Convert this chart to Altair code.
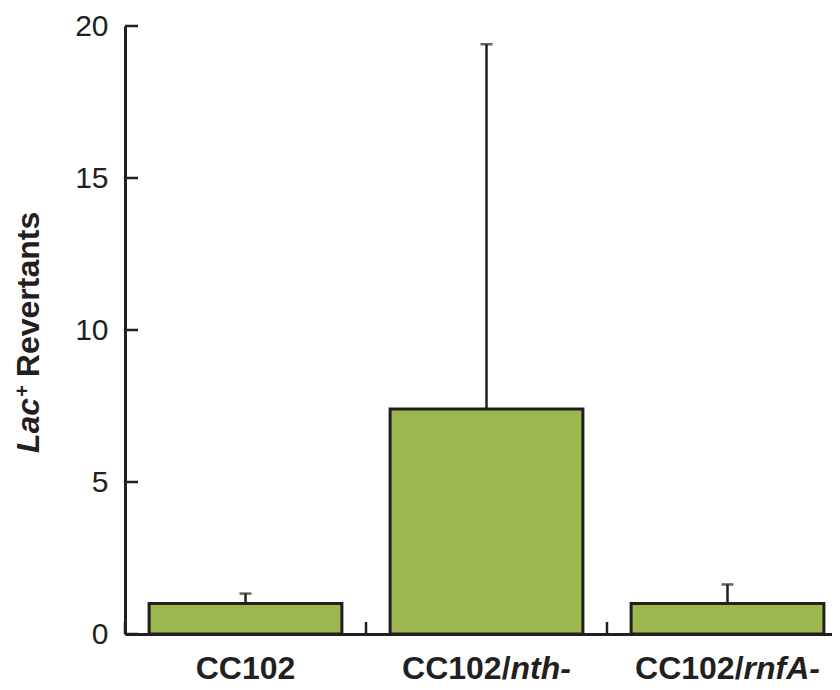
import altair as alt
import pandas as pd

# ---- data ----
strains = ["CC102", "CC102/nth-", "CC102/rnfA-"]
label_plain = ["CC102", "CC102/", "CC102/"]
label_italic = ["", "nth-", "rnfA-"]
revertants = [1.0, 7.4, 1.0]
upper = [1.33, 19.4, 1.63]
y_ticks = [0, 5, 10, 15, 20]
title_italic = ["Lac"]
title_sup = ["+"]
title_plain = ["Revertants"]

# ---- style / layout ----
W, H = 707, 608       # plot area; SVG = 117 + 707 = 824 wide, 18 + 608 + 48 = 674 high
STEP = 241            # px per category slot in the reference
BAR_FRAC = 0.8
FONT = "Liberation Sans"
INK = "#231f20"
GREEN = "#9bb74e"
LABEL_FS = 32
TITLE_FS = 32

# Helvetica/Arial bold advance widths (em)
BOLD_W = {"C": .722, "1": .556, "0": .556, "2": .556, "/": .278, "n": .611,
          "t": .333, "h": .611, "-": .333, "r": .389, "f": .333, "A": .722,
          "L": .611, "a": .556, "c": .556, "+": .584, " ": .278}


def text_w(s, fs):
    return sum(BOLD_W.get(ch, .556) for ch in s) * fs


df = pd.DataFrame({"strain": strains, "value": revertants, "upper": upper,
                   "plain": label_plain, "ital": label_italic})
df["idx"] = range(len(strains))
ticks_df = pd.DataFrame({"v": y_ticks})

# slot scale: one unit per category, visible range = W / STEP units
x_scale = alt.Scale(domain=[0, W / STEP], nice=False, zero=True, padding=0)
y_scale = alt.Scale(domain=[0, 20], nice=False, zero=True, padding=0)

x_axis = alt.Axis(title=None, labels=False, ticks=False, tickSize=0, grid=False,
                  domainColor=INK, domainWidth=3)
y_axis = alt.Axis(title=None, values=y_ticks, ticks=False, tickSize=0, grid=False,
                  labelPadding=17, labelFontSize=30, labelFont=FONT, labelColor=INK,
                  domainColor=INK, domainWidth=3)

half_gap = (1 - BAR_FRAC) / 2
base = alt.Chart(df).transform_calculate(
    x0=f"datum.idx + {half_gap}",
    x1=f"datum.idx + {1 - half_gap}",
    xc="datum.idx + 0.5",
)

bars = base.mark_bar(fill=GREEN, stroke=INK, strokeWidth=3).encode(
    x=alt.X("x0:Q", scale=x_scale, axis=x_axis),
    x2="x1:Q",
    y=alt.Y("value:Q", scale=y_scale, axis=y_axis),
    y2=alt.datum(0),
)

err = base.mark_rule(color=INK, strokeWidth=2.5).encode(
    x=alt.X("xc:Q", scale=x_scale),
    y=alt.Y("value:Q", scale=y_scale),
    y2="upper:Q",
)

caps = base.mark_tick(color=INK, thickness=2.5, size=12, orient="horizontal").encode(
    x=alt.X("xc:Q", scale=x_scale),
    y=alt.Y("upper:Q", scale=y_scale),
)

xticks = base.mark_rule(color=INK, strokeWidth=2.5).encode(
    x=alt.X("idx:Q", scale=x_scale),
    y=alt.value(H - 12),
    y2=alt.value(H),
)

yticks = alt.Chart(ticks_df).mark_rule(color=INK, strokeWidth=2.5).encode(
    y=alt.Y("v:Q", scale=y_scale),
    x=alt.value(0),
    x2=alt.value(13),
)

layers = [bars, err, caps, xticks, yticks]

LABEL_Y = H + 45
# x tick labels with mixed bold / bold-italic parts
for s, p, it in zip(strains, label_plain, label_italic):
    dx = (text_w(p, LABEL_FS) - text_w(it, LABEL_FS)) / 2
    sub = base.transform_filter(alt.datum.strain == s)
    layers.append(sub.mark_text(font=FONT, fontSize=LABEL_FS, fontWeight="bold", color=INK,
                                align="right", baseline="alphabetic", dx=dx).encode(
        x=alt.X("xc:Q", scale=x_scale),
        y=alt.value(LABEL_Y),
        text="plain:N"))
    if it:
        layers.append(sub.mark_text(font=FONT, fontSize=LABEL_FS, fontWeight="bold", fontStyle="italic",
                                    color=INK, align="left", baseline="alphabetic", dx=dx).encode(
            x=alt.X("xc:Q", scale=x_scale),
            y=alt.value(LABEL_Y),
            text="ital:N"))

# y title: italic "Lac", superscript "+", then "Revertants", rotated
title_base_x = -86
lac_y = 427
sup_y = lac_y - text_w(title_italic[0], TITLE_FS) - 1
rev_y = sup_y - text_w(title_sup[0], 20) - 8

t1 = alt.Chart(pd.DataFrame({"t": title_italic})).mark_text(
    font=FONT, fontSize=TITLE_FS, fontWeight="bold", fontStyle="italic", color=INK,
    angle=270, align="left", baseline="alphabetic").encode(
    x=alt.value(title_base_x), y=alt.value(lac_y), text="t:N")
t2 = alt.Chart(pd.DataFrame({"t": title_sup})).mark_text(
    font=FONT, fontSize=20, fontWeight="bold", color=INK,
    angle=270, align="left", baseline="alphabetic").encode(
    x=alt.value(title_base_x - 10), y=alt.value(sup_y), text="t:N")
t3 = alt.Chart(pd.DataFrame({"t": title_plain})).mark_text(
    font=FONT, fontSize=TITLE_FS, fontWeight="bold", color=INK,
    angle=270, align="left", baseline="alphabetic").encode(
    x=alt.value(title_base_x), y=alt.value(rev_y), text="t:N")

layers += [t1, t2, t3]

chart = alt.layer(*layers).properties(
    width=W, height=H,
    background="white",
    autosize=alt.AutoSizeParams(type="none"),
    padding={"left": 117, "top": 18, "right": 0, "bottom": 48},
).configure_view(strokeWidth=0).configure_axis(grid=False)

chart.save("out.html", embed_options={"renderer": "svg", "actions": False})
